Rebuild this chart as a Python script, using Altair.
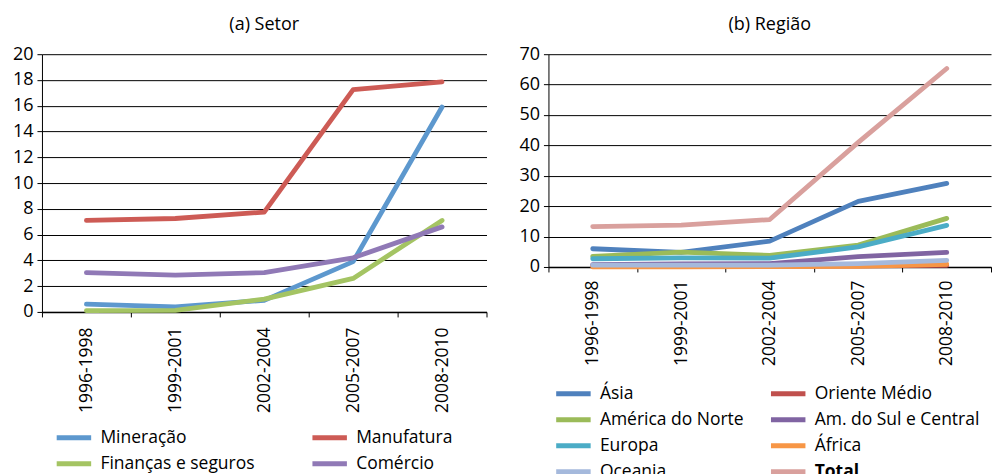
import altair as alt
import pandas as pd

periods = ["1996-1998", "1999-2001", "2002-2004", "2005-2007", "2008-2010"]

# (a) Setor
setor_series = ["Mineração", "Manufatura", "Finanças e seguros", "Comércio"]
mineracao = [0.6, 0.4, 0.9, 3.9, 15.9]
manufatura = [7.1, 7.25, 7.75, 17.25, 17.85]
financas = [0.1, 0.12, 1.0, 2.6, 7.1]
comercio = [3.05, 2.85, 3.05, 4.2, 6.6]
setor_colors = ["#5D98CE", "#CD5B55", "#A4C463", "#9079B6"]

# (b) Região
regiao_series = ["Ásia", "Oriente Médio", "América do Norte", "Am. do Sul e Central",
                 "Europa", "África", "Oceania", "Total"]
asia = [6.0, 4.8, 8.5, 21.6, 27.5]
oriente = [0.3, 0.25, 0.3, 0.35, 0.5]
am_norte = [3.5, 4.9, 3.8, 7.2, 16.0]
am_sul = [0.8, 1.0, 1.1, 3.4, 4.8]
europa = [2.7, 3.0, 2.9, 6.6, 13.7]
africa = [0.0, 0.05, 0.1, 0.2, 0.9]
oceania = [0.6, 0.6, 0.6, 1.1, 2.2]
total = [13.3, 13.8, 15.6, 41.0, 65.3]
regiao_colors = ["#4F81BD", "#C0504D", "#9BBB59", "#8064A2",
                 "#4BACC6", "#F79646", "#A5B9DC", "#D9A09D"]

FONT = "Open Sans"


def build_df(series, values):
    rows = []
    for s, vals in zip(series, values):
        for p, v in zip(periods, vals):
            rows.append({"periodo": p, "serie": s, "valor": v})
    return pd.DataFrame(rows)


df_setor = build_df(setor_series, [mineracao, manufatura, financas, comercio])
df_regiao = build_df(regiao_series, [asia, oriente, am_norte, am_sul, europa, africa, oceania, total])


def panel(df, series, colors, title, ymax, ystep, width, height,
          legend_x, legend_y, col_pad, row_pad, title_offset, label_pad):
    x = alt.X(
        "periodo:N", sort=periods, title=None,
        scale=alt.Scale(paddingInner=0, paddingOuter=0),
        axis=alt.Axis(labelAngle=-90, tickBand="extent", domainColor="black",
                      domainWidth=1.5, tickColor="black", tickSize=5,
                      labelPadding=label_pad, labelFontSize=17.5, labelColor="black",
                      labelFont=FONT, grid=False),
    )
    y = alt.Y(
        "valor:Q", title=None,
        scale=alt.Scale(domain=[0, ymax], nice=False),
        axis=alt.Axis(values=list(range(0, ymax + 1, ystep)), grid=True,
                      gridColor="black", gridWidth=1, domainColor="black",
                      tickColor="black", tickSize=5, labelPadding=4,
                      labelFontSize=18, labelColor="black", labelFont=FONT),
    )
    color = alt.Color(
        "serie:N",
        scale=alt.Scale(domain=series, range=colors),
        legend=alt.Legend(
            title=None, orient="none", legendX=legend_x, legendY=legend_y,
            direction="horizontal", columns=2,
            symbolType="M-1.5,0H1.5", symbolSize=529, symbolStrokeWidth=5,
            labelFontSize=17.5, labelFont=FONT, labelColor="black", labelOffset=12.5,
            rowPadding=row_pad, columnPadding=col_pad, padding=0, labelLimit=400,
            labelFontWeight={"expr": "datum.label == 'Total' ? 'bold' : 'normal'"},
        ),
    )
    return (
        alt.Chart(df)
        .mark_line(strokeWidth=4.8, strokeCap="round", strokeJoin="round")
        .encode(x=x, y=y, color=color)
        .properties(
            width=width, height=height,
            title=alt.TitleParams(title, offset=title_offset, fontSize=18,
                                  fontWeight="normal", font=FONT, color="black"),
        )
    )


left = panel(df_setor, setor_series, setor_colors, "(a) Setor", 20, 2, 445, 258,
             18, 370, 47, 2, 11, 10)
right = panel(df_regiao, regiao_series, regiao_colors, "(b) Região", 70, 10, 443, 213,
              11, 326, 16, 2, 11, 8)

chart = (
    alt.hconcat(left, right, spacing=31)
    .resolve_scale(color="independent")
    .properties(padding={"left": 12, "top": 16, "right": 0, "bottom": 0})
    .configure_view(stroke=None)
)

chart.save("out.html", embed_options={"renderer": "svg", "actions": False})
